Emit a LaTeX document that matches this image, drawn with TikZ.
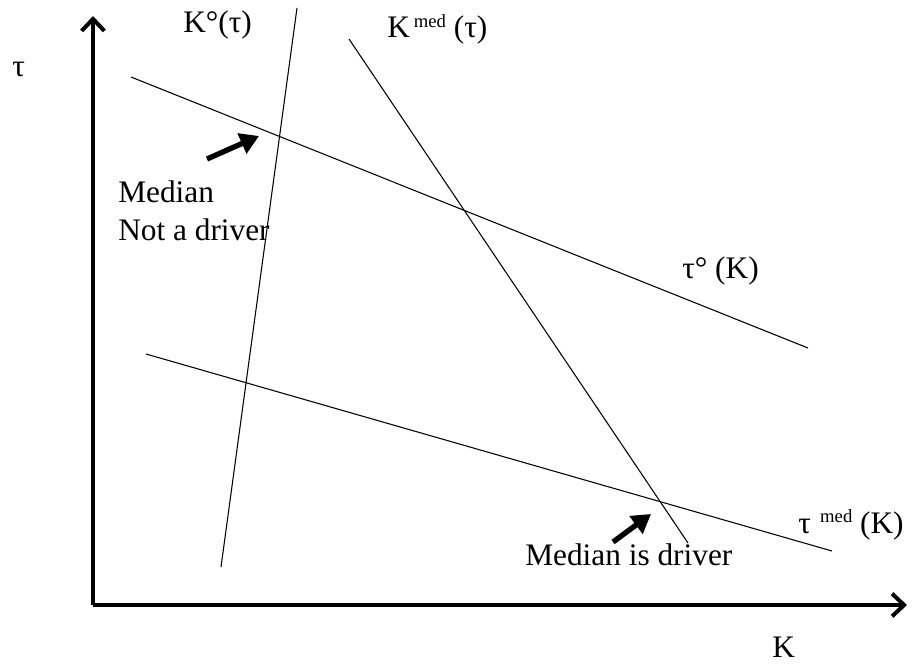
\documentclass[tikz,border=0pt]{standalone}
\usepackage{fontspec}
\setmainfont{Liberation Serif}
\usetikzlibrary{arrows.meta}
\newcommand{\supmed}{\raisebox{8pt}{\fontsize{14}{14}\selectfont med}}
\begin{document}
\begin{tikzpicture}[x=0.75pt,y=-0.75pt,
  lbl/.style={inner sep=0pt,anchor=base west,font=\fontsize{23.5}{28.5}\selectfont},
  curve/.style={line width=0.8pt},
  axis/.style={line width=3pt,-{Straight Barb[length=9pt,width=17pt,line width=3pt]}},
  pointer/.style={line width=4pt,-{Triangle[length=14pt,width=16pt]}}]
\useasboundingbox (0,0) rectangle (912,663);
% axes
\coordinate (O) at (93,605);
\coordinate (ytop) at (93,16);
\coordinate (xend) at (907,605);
\draw[axis] (O) -- (ytop);
\draw[axis] (O) -- (xend);
% lines
\coordinate (k0a) at (297,8);   \coordinate (k0b) at (221,567);
\coordinate (kma) at (349,39);  \coordinate (kmb) at (688,543);
\coordinate (t0a) at (131,77);  \coordinate (t0b) at (808,348);
\coordinate (tma) at (146,354); \coordinate (tmb) at (832,551);
\draw[curve] (k0a) -- (k0b);
\draw[curve] (kma) -- (kmb);
\draw[curve] (t0a) -- (t0b);
\draw[curve] (tma) -- (tmb);
% pointers
\coordinate (p1a) at (207,159); \coordinate (p1b) at (259,136);
\coordinate (p2a) at (613,542); \coordinate (p2b) at (651,514);
\draw[pointer] (p1a) -- (p1b);
\draw[pointer] (p2a) -- (p2b);
% labels
\node[lbl] (Ktau) at (183,33) {K°(τ)};
\node[lbl] (Kmed) at (387,38) {K\kern3pt\supmed{} (τ)};
\node[lbl] (tau) at (12,77) {τ};
\node[lbl] (nd1) at (118,202) {Median};
\node[lbl] (nd2) at (118,240) {Not a driver};
\node[lbl] (t0K) at (682,278) {τ° (K)};
\node[lbl] (tmK) at (798,533) {τ\kern7pt\supmed{} (K)};
\node[lbl] (drv) at (525,565) {Median is driver};
\node[lbl] (Klab) at (772,657) {K};
\end{tikzpicture}
\end{document}
